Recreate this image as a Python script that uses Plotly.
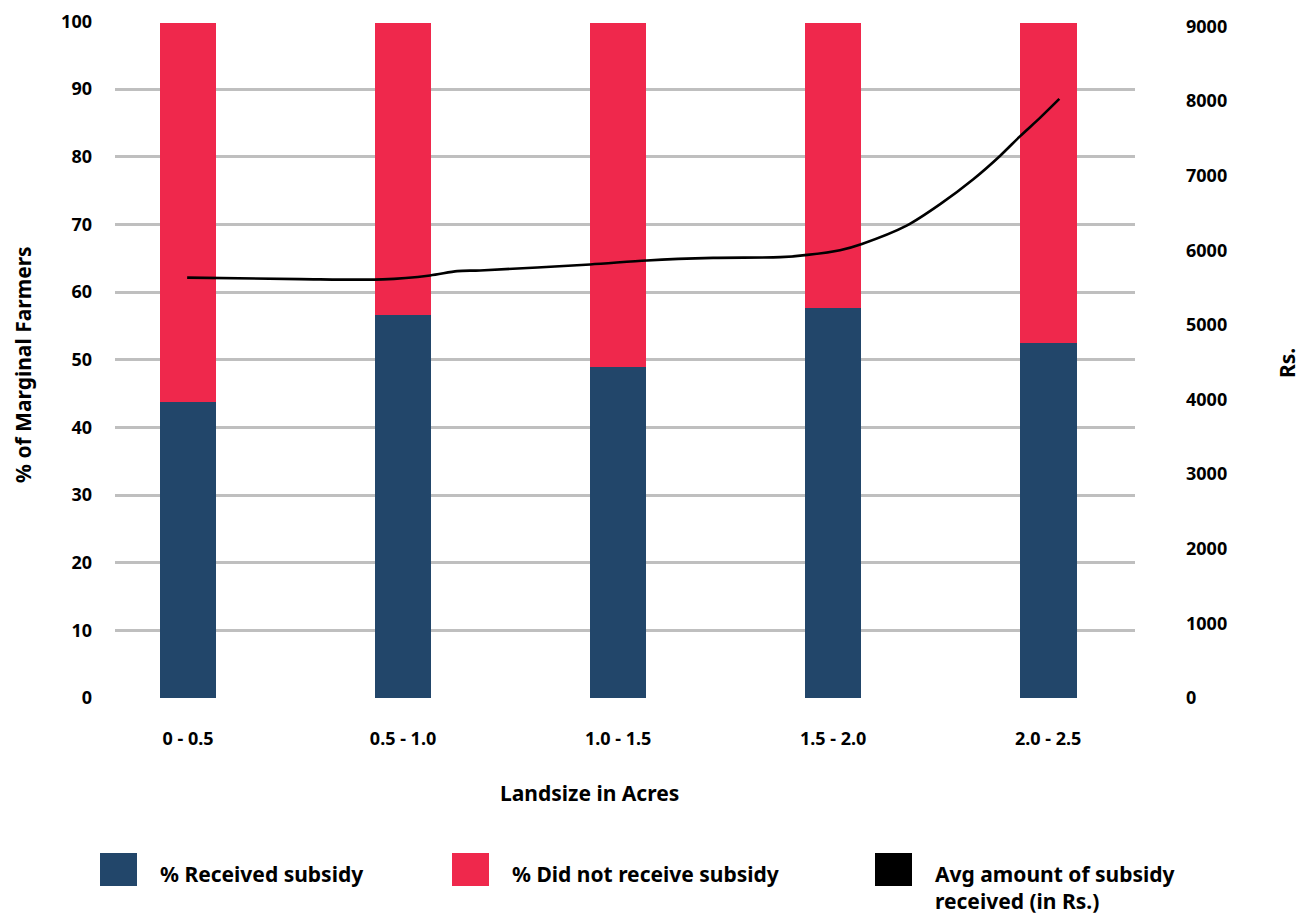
import plotly.graph_objects as go

# ---- data ----
categories = ["0 - 0.5", "0.5 - 1.0", "1.0 - 1.5", "1.5 - 2.0", "2.0 - 2.5"]
category_mid_acres = [0.25, 0.75, 1.25, 1.75, 2.25]
pct_received = [43.8, 56.6, 48.9, 57.7, 52.4]
pct_not_received = [56.0, 43.2, 50.9, 42.1, 47.4]

# Avg amount of subsidy (Rs.) – traced curve (landsize in acres, Rs.)
line_acres = [0.248, 0.510, 0.703, 0.813, 0.876, 0.929, 1.185, 1.317, 1.471,
              1.627, 1.690, 1.766, 1.817, 1.921, 1.999, 2.076, 2.138, 2.185,
              2.231, 2.276]
line_rs = [5633, 5613, 5609, 5662, 5720, 5729, 5809, 5863, 5897,
           5907, 5937, 6000, 6084, 6329, 6617, 6951, 7263, 7529,
           7773, 8027]

left_ticks = list(range(0, 101, 10))
right_ticks = list(range(0, 9001, 1000))

BLUE = "#22466A"
RED = "#EF284C"
GRID = "#BFBFBF"
FONT = "Noto Sans"

fig = go.Figure()
fig.add_trace(go.Bar(x=category_mid_acres, y=pct_received, name="% Received subsidy",
                     marker=dict(color=BLUE, line=dict(width=0)), width=0.132))
fig.add_trace(go.Bar(x=category_mid_acres, y=pct_not_received, name="% Did not receive subsidy",
                     marker=dict(color=RED, line=dict(width=0)), width=0.132))
fig.add_trace(go.Scatter(x=line_acres, y=line_rs, mode="lines", yaxis="y2",
                         name="Avg amount of subsidy received (in Rs.)",
                         line=dict(color="black", width=2.6, shape="spline", smoothing=0.8)))

tickfont = dict(family=FONT, size=18, color="black", weight="bold")

PLOT_H = 677  # plot area height in px

fig.update_layout(
    width=1297, height=909,
    margin=dict(l=107, r=170, t=13, b=219, autoexpand=False),
    paper_bgcolor="white", plot_bgcolor="white",
    barmode="stack", showlegend=False,
    font=dict(family=FONT, color="black"),
    xaxis=dict(range=[0.0802, 2.452], tickvals=category_mid_acres, ticktext=categories,
               showgrid=False, zeroline=False, showline=False, ticks="", automargin=False,
               tickfont=tickfont, ticklabelstandoff=28, ticklabeloverflow="allow"),
    yaxis=dict(range=[0, 100.05], tickvals=left_ticks, showgrid=True, gridcolor=GRID,
               gridwidth=2.5, zeroline=False, showline=False, ticks="", automargin=False,
               tickfont=tickfont, ticklabelstandoff=22, ticklabeloverflow="allow"),
    yaxis2=dict(range=[0, 9071.2], tickvals=right_ticks, overlaying="y", side="right",
                showgrid=False, zeroline=False, showline=False, ticks="", automargin=False,
                tickfont=tickfont, ticklabelstandoff=50, ticklabeloverflow="allow"),
)

def px_x(X):
    return (X - 115) / 1020

def px_y(Y):
    return (698 - Y) / PLOT_H

fig.add_annotation(text="<b>Landsize in Acres</b>", xref="paper", yref="paper",
                   x=px_x(589), y=px_y(793), xanchor="center", yanchor="middle", showarrow=False,
                   font=dict(family=FONT, size=21, color="black"))
fig.add_annotation(text="<b>% of Marginal Farmers</b>", xref="paper", yref="paper",
                   x=px_x(23), y=px_y(365), xanchor="center", yanchor="middle",
                   showarrow=False, textangle=-90,
                   font=dict(family=FONT, size=21, color="black"))
fig.add_annotation(text="<b>Rs.</b>", xref="paper", yref="paper",
                   x=px_x(1287), y=px_y(363), xanchor="center", yanchor="middle",
                   showarrow=False, textangle=-90,
                   font=dict(family=FONT, size=21, color="black"))

# custom legend with large square swatches
legend_items = [
    (BLUE, "% Received subsidy", 100),
    (RED, "% Did not receive subsidy", 452),
    ("black", "Avg amount of subsidy<br>received (in Rs.)", 875),
]
for color, label, px in legend_items:
    fig.add_shape(type="rect", xref="paper", yref="paper",
                  x0=px_x(px), x1=px_x(px + 37),
                  y0=px_y(853), y1=px_y(886),
                  fillcolor=color, line=dict(width=0))
    fig.add_annotation(text="<b>" + label + "</b>", xref="paper", yref="paper",
                       x=px_x(px + 58), y=px_y(858),
                       xanchor="left", yanchor="top", align="left", showarrow=False,
                       font=dict(family=FONT, size=21, color="black"))

fig.write_html("out.html")
